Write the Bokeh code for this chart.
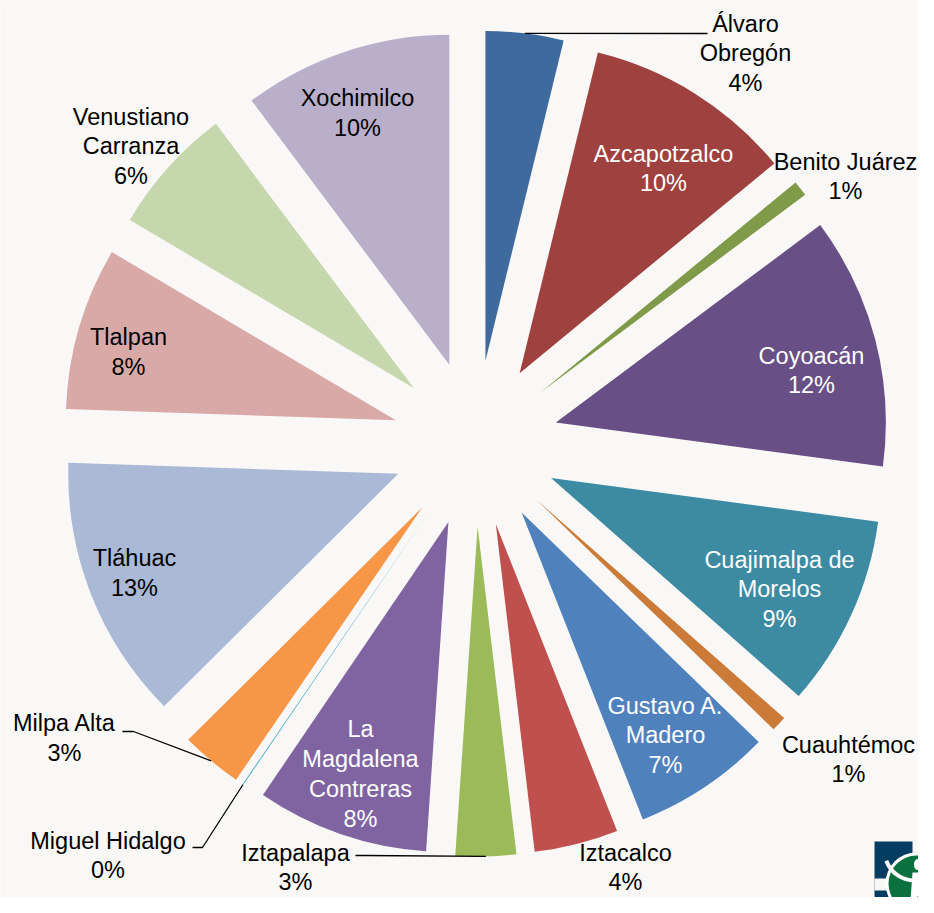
import math
from bokeh.plotting import figure
from bokeh.models import Range1d, ColumnDataSource
from bokeh.embed import file_html
from bokeh.resources import INLINE
from bokeh.core.properties import value

# ---------------- data ----------------
DISTRICTS = ["Álvaro Obregón", "Azcapotzalco", "Benito Juárez", "Coyoacán",
             "Cuajimalpa de Morelos", "Cuauhtémoc", "Gustavo A. Madero", "Iztacalco",
             "Iztapalapa", "La Magdalena Contreras", "Miguel Hidalgo", "Milpa Alta",
             "Tláhuac", "Tlalpan", "Venustiano Carranza", "Xochimilco"]
SHARES = [3.8, 10.2, 0.75, 12.3, 9.35, 0.75, 6.75, 4.1,
          2.95, 8.4, 0.05, 3.0, 12.95, 7.95, 6.25, 10.2]

# ---------------- style / layout ----------------
COLORS = ["#3e6a9d", "#9e413f", "#7f9a48", "#684f86", "#3d8ba3", "#cb7a37",
          "#4f81bd", "#c0504d", "#9bbb59", "#8064a2", "#4bacc6", "#f79646",
          "#aab9d6", "#d9a9a8", "#c6d6ad", "#b9afca"]
TEXT_COLORS = ["black", "white", "black", "white", "white", "black", "white", "black",
               "black", "white", "black", "black", "black", "black", "black", "black"]
WRAP = {"Álvaro Obregón": "Álvaro\nObregón",
        "Cuajimalpa de Morelos": "Cuajimalpa de\nMorelos",
        "Gustavo A. Madero": "Gustavo A.\nMadero",
        "La Magdalena Contreras": "La\nMagdalena\nContreras",
        "Venustiano Carranza": "Venustiano\nCarranza"}
# label centre offsets from the pie centre (screen px, y downwards)
LABEL_OFFSETS = [(270, -390), (188, -275), (370, -267), (336, -73),
                 (304, 146), (373, 316), (190, 292), (150, 424),
                 (-180, 424), (-115, 330.5), (-367.5, 412), (-411, 294.5),
                 (-341, 129.5), (-347, -91.3), (-344.5, -297), (-118, -330.5)]
# leader line points, offsets from label centre (screen px, y downwards)
LEADERS = {"Álvaro Obregón": [(-38, -20)],
           "Iztapalapa": [(68, -12), (60, -12)],
           "Miguel Hidalgo": [(94.5, -8), (84.5, -8)],
           "Milpa Alta": [(69, -6.5), (58, -6.5)]}

W, H = 918, 897
PAGE_H = 913
CX, CY = 475, 443          # pie centre in screen px
RADIUS = 330
EXPLODE = 83
BG = "#f9f8f6"
FONT = "Liberation Sans"
FONT_SIZE = "23.5px"


def Y(py):
    return PAGE_H - py


p = figure(width=W, height=H, output_backend="svg", toolbar_location=None,
           x_range=Range1d(0, W), y_range=Range1d(Y(H), Y(0)),
           min_border=0, background_fill_color=BG, border_fill_color=BG)
p.axis.visible = False
p.grid.visible = False
p.outline_line_color = None

total = sum(SHARES)
cum = 0.0
wx, wy, sa, ea, mids = [], [], [], [], []
for v in SHARES:
    t1 = cum / total * 360.0
    cum += v
    t2 = cum / total * 360.0
    tm = math.radians((t1 + t2) / 2)
    mids.append(tm)
    wx.append(CX + EXPLODE * math.sin(tm))
    wy.append(Y(CY) + EXPLODE * math.cos(tm))
    sa.append(math.radians(90 - t2))
    ea.append(math.radians(90 - t1))

src = ColumnDataSource(dict(x=wx, y=wy, start=sa, end=ea, color=COLORS))
p.wedge(x="x", y="y", radius=RADIUS, start_angle="start", end_angle="end",
        direction="anticlock", fill_color="color", line_color=None, source=src)

# labels
lx, ly, lt = [], [], []
for name, v, (dx, dy) in zip(DISTRICTS, SHARES, LABEL_OFFSETS):
    pct = round(v / total * 100)
    lx.append(CX + dx)
    ly.append(Y(CY + dy))
    lt.append(f"{WRAP.get(name, name)}\n{pct}%")
lsrc = ColumnDataSource(dict(x=lx, y=ly, text=lt, color=TEXT_COLORS))
p.text(x="x", y="y", text="text", text_color="color", source=lsrc,
       text_font=value(FONT), text_font_size=FONT_SIZE, text_align="center",
       text_baseline="middle", text_line_height=1.15)

# leader lines
xs, ys = [], []
for i, name in enumerate(DISTRICTS):
    if name in LEADERS:
        tm = mids[i]
        ax = wx[i] + RADIUS * math.sin(tm)
        ay = wy[i] + RADIUS * math.cos(tm)
        px, py = [ax], [ay]
        for ox, oy in LEADERS[name]:
            px.append(lx[i] + ox)
            py.append(ly[i] - oy)
        xs.append(px)
        ys.append(py)
p.multi_line(xs=xs, ys=ys, line_color="black", line_width=1.3)

# small logo in the lower right corner
p.quad(left=[874], right=[912], bottom=[Y(913)], top=[Y(841)], fill_color="#053c62", line_color=None)
p.quad(left=[874], right=[900], bottom=[Y(890)], top=[Y(878)], fill_color=BG, line_color=None)
p.circle(x=[916], y=[Y(883)], radius=31, fill_color="white", line_color=None)
p.circle(x=[916], y=[Y(883)], radius=28, fill_color="#0a703d", line_color=None)
p.ellipse(x=[917], y=[Y(864)], width=7, height=11, fill_color="white", line_color=None)
p.arc(x=[914], y=[Y(850)], radius=30, start_angle=math.radians(200), end_angle=math.radians(345),
      line_color="white", line_width=4)
p.patch(x=[912, 922, 925, 919, 917, 915, 909], y=[Y(872), Y(872), Y(913), Y(913), Y(895), Y(913), Y(913)],
        fill_color="white", line_color=None)

open("out.html", "w").write(file_html(p, INLINE))
